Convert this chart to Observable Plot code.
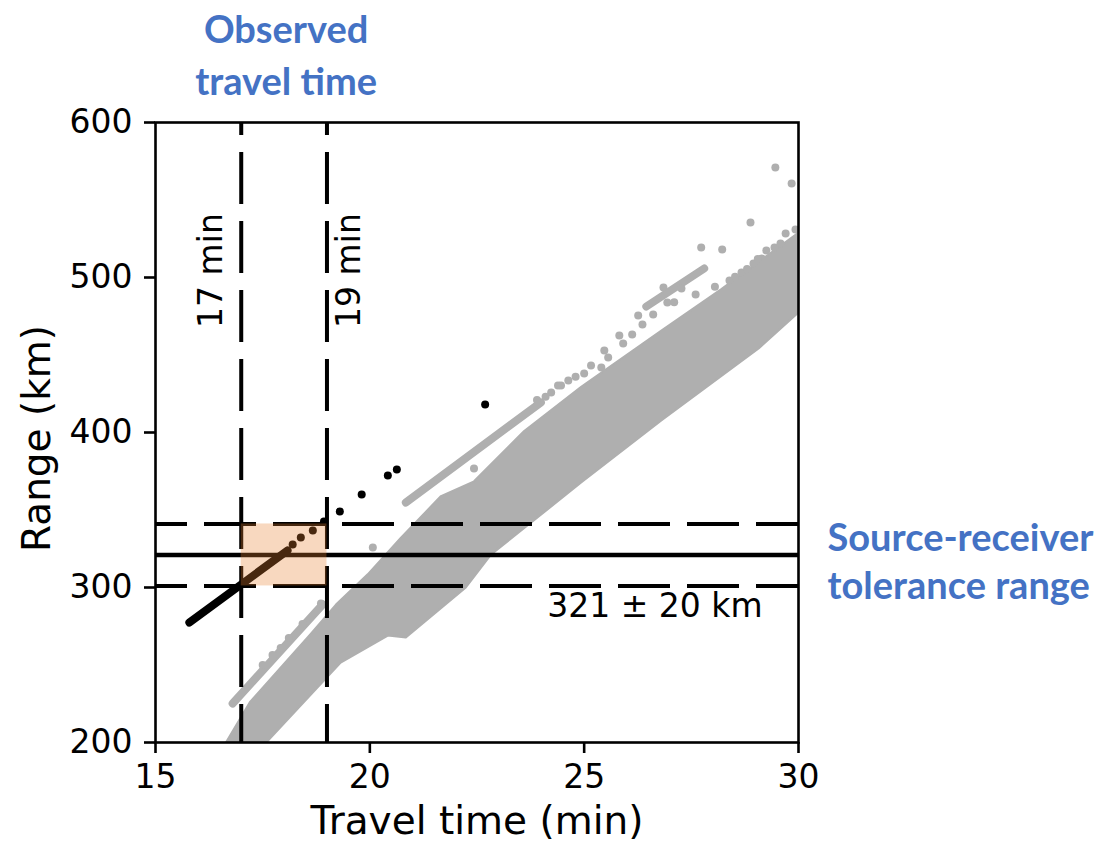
<!DOCTYPE html>
<html><head><meta charset="utf-8">
<script src="https://cdn.jsdelivr.net/npm/d3@7"></script>
<script src="https://cdn.jsdelivr.net/npm/@observablehq/plot@0.6"></script>
<style>html,body{margin:0;padding:0;background:#fff;overflow:hidden}</style>
</head><body><div id="chart"></div>
<script>
// ---- axes ----
const xTicks = [15, 20, 25, 30];
const yTicks = [200, 300, 400, 500, 600];
const xLabel = "Travel time (min)";
const yLabel = "Range (km)";

// ---- observed travel time window ----
const observedTimes = [17, 19];
const observedLabels = ["17 min", "19 min"];
const observedTitle = "Observed\ntravel time";

// ---- source-receiver range ----
const rangeCenter = [321];
const rangeBounds = [301, 341];
const rangeLabel = "321 \u00b1 20 km";
const rangeTitle = "Source-receiver\ntolerance range";

// ---- gray cloud (all simulated arrivals): outline of the dense band ----
const cloudTime  = [16.60, 17.20, 18.62, 19.21, 19.95, 20.72, 21.66, 22.43, 23.60, 24.93, 26.80, 28.20, 30.05,
                    30.05, 29.07, 26.80, 24.93, 22.83, 22.24, 20.84, 20.42, 19.32, 17.52];
const cloudRange = [198.0, 226.0, 270.0, 289.0, 308.5, 332.0, 359.0, 368.5, 401.0, 429.5, 465.8, 492.5, 530.0,
                    478.7, 454.2, 407.7, 367.7, 321.3, 300.0, 267.7, 269.0, 251.6, 198.1];

// ---- gray streaks (separate tracks) ----
const streakId    = ["a", "a", "b", "b", "c", "c"];
const streakTime  = [16.80, 18.90, 20.84, 23.99, 26.45, 27.80];
const streakRange = [225.2, 289.0, 354.8, 419.4, 481.3, 505.8];

// ---- isolated gray points ----
const grayTime  = [29.46, 29.84, 28.88, 27.73, 28.22, 29.70, 29.93, 29.44, 29.25, 29.14, 28.95, 28.67, 28.39,
                   26.85, 26.61, 26.94, 27.27, 26.26, 26.36, 25.82, 26.12, 25.91, 25.47, 25.56, 25.16, 25.40,
                   25.00, 24.63, 24.39, 24.23, 24.46, 22.43, 20.07, 18.86, 18.43, 18.11, 17.92, 17.73, 17.50,
                   29.58, 29.05, 28.80, 28.52, 28.05, 27.60, 27.10, 24.80, 24.10, 23.90];
const grayRange = [571.0, 560.6, 535.5, 519.4, 518.1, 528.4, 531.0, 519.4, 517.4, 512.3, 509.0, 503.2, 498.1,
                   493.5, 476.1, 483.9, 492.9, 475.5, 469.7, 462.6, 463.2, 457.4, 452.9, 448.4, 443.2, 441.9,
                   438.1, 433.5, 430.3, 425.8, 430.3, 376.8, 325.8, 289.7, 276.5, 267.5, 261.0, 256.5, 250.0,
                   522.0, 512.0, 505.5, 500.5, 494.0, 489.0, 484.0, 436.0, 423.0, 421.0];

// ---- black (matching) arrivals ----
const blackLineTime  = [15.79, 18.08];
const blackLineRange = [277.4, 323.9];
const blackTime  = [18.20, 18.39, 18.67, 18.93, 19.30, 19.81, 20.42, 20.63, 22.69];
const blackRange = [327.7, 332.3, 336.8, 342.6, 349.0, 360.0, 372.3, 376.1, 418.1];

const gray = "#afafaf";
const blue = "#4472c4";
const cloud = cloudTime.map((t, i) => ({t, r: cloudRange[i]}));
const streaks = streakTime.map((t, i) => ({t, r: streakRange[i], id: streakId[i]}));
const grayPts = grayTime.map((t, i) => ({t, r: grayRange[i]}));
const blackLine = blackLineTime.map((t, i) => ({t, r: blackLineRange[i]}));
const blackPts = blackTime.map((t, i) => ({t, r: blackRange[i]}));

const chart = Plot.plot({
  width: 1104, height: 844,
  marginLeft: 155, marginRight: 306, marginTop: 122, marginBottom: 102,
  style: {fontFamily: "DejaVu Sans", fontSize: "33px", background: "white", color: "black"},
  x: {domain: [15, 30]},
  y: {domain: [200, 600]},
  marks: [
    Plot.line(cloud, {x: "t", y: "r", fill: gray, stroke: gray, strokeWidth: 2, strokeLinejoin: "round", clip: true}),
    Plot.line(streaks, {x: "t", y: "r", z: "id", stroke: gray, strokeWidth: 8, strokeLinecap: "round", clip: true}),
    Plot.dot(grayPts, {x: "t", y: "r", r: 4, fill: gray, clip: true}),
    Plot.line(blackLine, {x: "t", y: "r", stroke: "black", strokeWidth: 8, strokeLinecap: "round", clip: true}),
    Plot.dot(blackPts, {x: "t", y: "r", r: 4, fill: "black", clip: true}),
    Plot.ruleX(observedTimes, {stroke: "black", strokeWidth: 4, strokeDasharray: "52,17", strokeDashoffset: 39}),
    Plot.ruleY(rangeBounds, {stroke: "black", strokeWidth: 4, strokeDasharray: "52,17", strokeDashoffset: 20}),
    Plot.ruleY(rangeCenter, {stroke: "black", strokeWidth: 4.5}),
    Plot.rect([0], {x1: observedTimes[0], x2: observedTimes[1], y1: rangeBounds[0], y2: rangeBounds[1], fill: "#e8812f", fillOpacity: 0.31}),
    Plot.frame({stroke: "black", strokeWidth: 2.6}),
    Plot.axisX({ticks: xTicks, tickSize: 11, tickPadding: 11, strokeWidth: 2.6, fontSize: 33, label: null}),
    Plot.axisY({ticks: yTicks, tickSize: 11, tickPadding: 12, strokeWidth: 2.6, fontSize: 33, label: null}),
    Plot.text([xLabel], {frameAnchor: "bottom", textAnchor: "middle", lineAnchor: "middle", dy: 79, fontSize: 39}),
    Plot.text([yLabel], {frameAnchor: "left", textAnchor: "middle", lineAnchor: "middle", dx: -118, dy: 6, rotate: -90, fontSize: 39}),
    Plot.text([observedLabels[0]], {x: [observedTimes[0]], y: [504.5], rotate: -90, dx: -30, fontSize: 33}),
    Plot.text([observedLabels[1]], {x: [observedTimes[1]], y: [504.5], rotate: -90, dx: 22, fontSize: 33}),
    Plot.text([rangeLabel], {x: [26.65], y: [288], fontSize: 33}),
    Plot.text([observedTitle], {x: [18], frameAnchor: "top", dx: 2, dy: -70, lineAnchor: "middle", lineHeight: 1.37,
      fontSize: 38, fontWeight: "bold", fontFamily: "Lato", fill: blue}),
    Plot.text([rangeTitle], {y: rangeCenter, frameAnchor: "right", dx: 29, dy: 5, textAnchor: "start", lineAnchor: "middle",
      lineHeight: 1.26, fontSize: 38, fontWeight: "bold", fontFamily: "Lato", fill: blue})
  ]
});
document.getElementById("chart").appendChild(chart);
</script>
</body></html>
